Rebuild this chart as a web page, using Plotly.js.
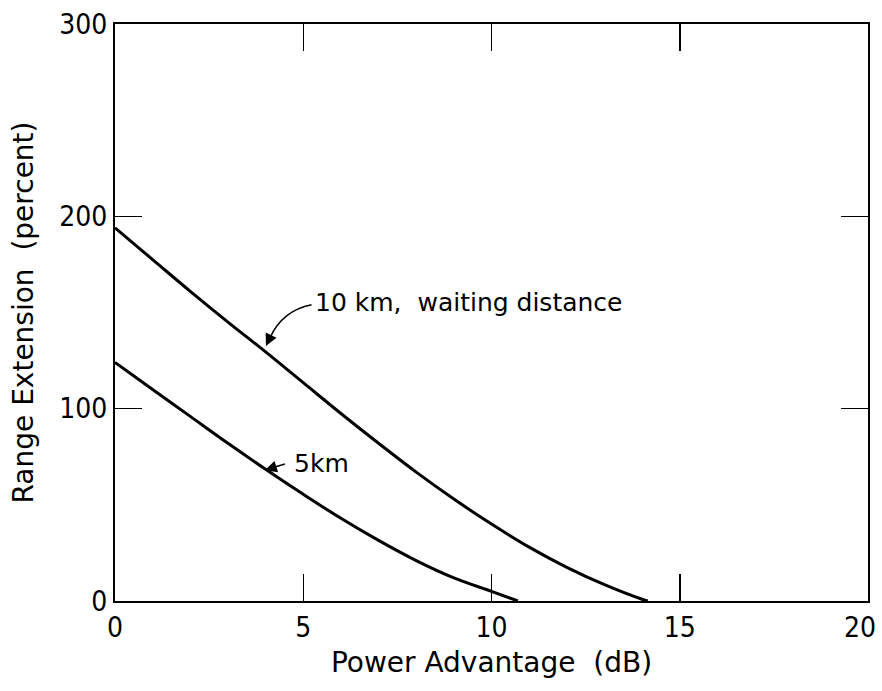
<!DOCTYPE html>
<html>
<head>
<meta charset="utf-8">
<script src="https://cdn.plot.ly/plotly-3.0.1.min.js"></script>
<style>html,body{margin:0;padding:0;background:#fff;}#chart{width:882px;height:691px;}</style>
</head>
<body>
<div id="chart"></div>
<script>
// Data
const x10 = [0, 1, 2, 3, 4, 5, 6, 7, 8, 9, 10, 11, 12, 13, 14, 14.15];
const y10 = [194, 177.5, 161, 145, 129.5, 113.5, 97.5, 82, 67, 53, 40, 28, 17.5, 8.5, 0.9, 0];
const x5 = [0, 1, 2, 3, 4, 5, 6, 7, 8, 9, 10, 10.7];
const y5 = [124, 110, 96, 82, 68.5, 55.5, 43, 31.5, 21, 12, 5, 0];
const xTicks = [0, 5, 10, 15, 20];
const xTickText = ['0', '5', '10', '15', '20'];
const yTicks = [0, 100, 200, 300];
const yTickText = ['0', '100', '200', '300'];
const label10 = '10 km,  waiting distance';
const label5 = '5km';

const tickFont = {family: '"Liberation Sans Narrow", "DejaVu Sans Condensed", sans-serif', size: 28, color: '#000'};
const textFont = {family: '"DejaVu Sans", sans-serif', size: 25, color: '#000'};
const titleFont = {family: '"DejaVu Sans", sans-serif', size: 28, color: '#000'};

const traces = [
  {x: x10, y: y10, mode: 'lines', line: {color: '#000', width: 3, shape: 'spline', smoothing: 1}, hoverinfo: 'skip'},
  {x: x5, y: y5, mode: 'lines', line: {color: '#000', width: 3, shape: 'spline', smoothing: 1}, hoverinfo: 'skip'}
];

// the last x tick label (at the right edge) is placed as an annotation so it stays inside the page
const lastIdx = xTicks.length - 1;
const axisTickText = xTickText.map((t, i) => i === lastIdx ? '' : t);

const layout = {
  width: 882, height: 691,
  margin: {l: 115, r: 14, t: 24, b: 90},
  paper_bgcolor: '#fff', plot_bgcolor: '#fff',
  showlegend: false,
  xaxis: {
    range: [0, 20], tickvals: xTicks, ticktext: axisTickText,
    ticks: 'inside', ticklen: 27, tickwidth: 1.5, tickcolor: '#000',
    showline: true, linecolor: '#000', linewidth: 2, mirror: 'ticks',
    showgrid: false, zeroline: false, tickfont: tickFont,
    automargin: false,
    title: {text: 'Power Advantage  (dB)', font: titleFont, standoff: 10}
  },
  yaxis: {
    range: [0, 300], tickvals: yTicks, ticktext: yTickText,
    ticks: 'inside', ticklen: 27, tickwidth: 1.5, tickcolor: '#000',
    showline: true, linecolor: '#000', linewidth: 2, mirror: 'ticks',
    showgrid: false, zeroline: false, tickfont: tickFont,
    automargin: false,
    title: {text: 'Range Extension  (percent)', font: titleFont, standoff: 18}
  },
  shapes: [
    {type: 'path', xref: 'x', yref: 'y', path: 'M 5.22,154 Q 4.45,151 4.12,137', line: {color: '#000', width: 1.5}}
  ],
  annotations: [
    {x: xTicks[lastIdx], y: 0, xref: 'x', yref: 'y', text: xTickText[lastIdx], showarrow: false,
     xanchor: 'right', yanchor: 'top', xshift: 10, yshift: -8, font: tickFont},
    {x: 4.01, y: 132.6, ax: 4.14, ay: 138, axref: 'x', ayref: 'y', xref: 'x', yref: 'y',
     showarrow: true, arrowhead: 2, arrowsize: 1.6, arrowwidth: 1.5, arrowcolor: '#000', text: ''},
    {x: 5.26, y: 155, xref: 'x', yref: 'y', text: label10, showarrow: false, xanchor: 'left', yanchor: 'middle', font: textFont},
    {x: 3.98, y: 68, ax: 4.55, ay: 71.5, axref: 'x', ayref: 'y', xref: 'x', yref: 'y',
     showarrow: true, arrowhead: 2, arrowsize: 1.6, arrowwidth: 1.5, arrowcolor: '#000', text: ''},
    {x: 4.7, y: 71.5, xref: 'x', yref: 'y', text: label5, showarrow: false, xanchor: 'left', yanchor: 'middle', font: textFont}
  ]
};

Plotly.newPlot('chart', traces, layout, {staticPlot: true});
</script>
</body>
</html>
